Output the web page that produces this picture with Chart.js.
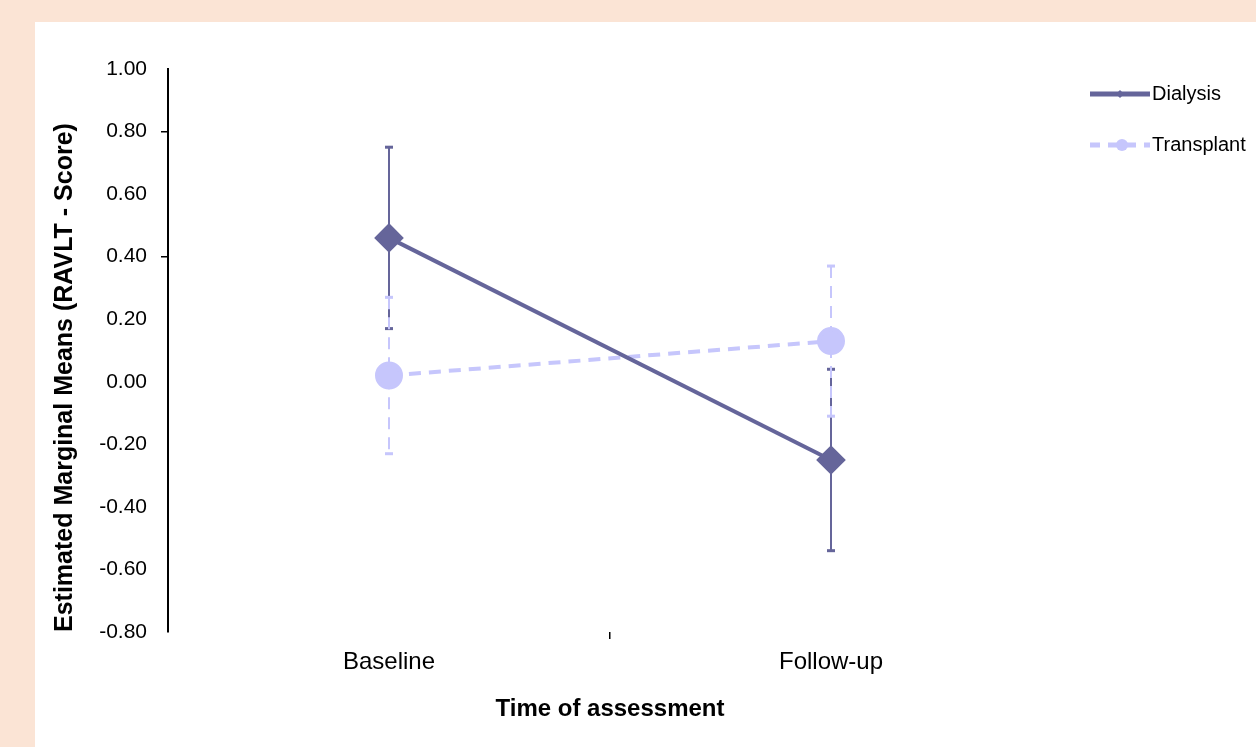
<!DOCTYPE html>
<html>
<head>
<meta charset="utf-8">
<script src="https://cdn.jsdelivr.net/npm/chart.js@4/dist/chart.umd.min.js"></script>
<style>
  html, body { margin: 0; padding: 0; background: #fbe4d5; }
  #panel { position: absolute; left: 35px; top: 22px; width: 1221px; height: 725px; background: #fff; }
</style>
</head>
<body>
<div id="panel"><canvas id="chart" width="1221" height="725"></canvas></div>
<script>
// data
const categories = ['Baseline', 'Follow-up'];
const dialysisMeans = [0.46, -0.25];
const dialysisErr = [0.29, 0.29];
const transplantMeans = [0.02, 0.13];
const transplantErr = [0.25, 0.24];
const yTickMarks = [0.8, 0.4];   // only these two carry a tick mark

const DARK = '#65659a';
const LIGHT = '#c6c6fc';
const FONT = 'Liberation Sans, Arial, sans-serif';

// error bars, drawn under the lines and markers
const errorBars = {
  id: 'errorBars',
  beforeDatasetsDraw(chart) {
    const ctx = chart.ctx;
    const x = chart.scales.x, y = chart.scales.y;
    chart.data.datasets.forEach(ds => {
      ctx.save();
      ctx.strokeStyle = ds.borderColor;
      ctx.fillStyle = ds.borderColor;
      ctx.lineWidth = 2;
      ctx.setLineDash(ds.borderDash || []);
      ds.data.forEach((v, i) => {
        const px = x.getPixelForValue(i);
        const top = y.getPixelForValue(v + ds.errors[i]);
        const bot = y.getPixelForValue(v - ds.errors[i]);
        ctx.beginPath();
        ctx.moveTo(px, top);
        ctx.lineTo(px, bot);
        ctx.stroke();
        ctx.fillRect(px - 4, top - 1.5, 8, 3);
        ctx.fillRect(px - 4, bot - 1.5, 8, 3);
      });
      ctx.restore();
    });
  }
};

// legend in the top right corner
const sideLegend = {
  id: 'sideLegend',
  afterDraw(chart) {
    const ctx = chart.ctx;
    const x0 = 1055, x1 = 1115;
    chart.data.datasets.forEach((ds, i) => {
      const yy = 72 + i * 51;
      ctx.save();
      ctx.strokeStyle = ds.borderColor;
      ctx.fillStyle = ds.borderColor;
      ctx.lineWidth = 5;
      ctx.setLineDash(ds.borderDash ? [10, 8] : []);
      ctx.beginPath();
      ctx.moveTo(x0, yy);
      ctx.lineTo(x1, yy);
      ctx.stroke();
      ctx.setLineDash([]);
      ctx.beginPath();
      if (ds.pointStyle === 'circle') {
        ctx.arc(1087, yy, 6, 0, Math.PI * 2);
      } else {
        ctx.moveTo(1085, yy - 4); ctx.lineTo(1089, yy); ctx.lineTo(1085, yy + 4); ctx.lineTo(1081, yy);
      }
      ctx.fill();
      ctx.fillStyle = '#000';
      ctx.font = '20px ' + FONT;
      ctx.textBaseline = 'middle';
      ctx.fillText(ds.label, x1 + 2, yy);
      ctx.restore();
    });
  }
};

new Chart(document.getElementById('chart'), {
  type: 'line',
  data: {
    labels: categories,
    datasets: [
      {
        label: 'Dialysis',
        data: dialysisMeans,
        errors: dialysisErr,
        borderColor: DARK,
        backgroundColor: DARK,
        borderWidth: 4,
        pointStyle: 'rectRot',
        pointRadius: 12,
        pointHoverRadius: 12
      },
      {
        label: 'Transplant',
        data: transplantMeans,
        errors: transplantErr,
        borderColor: LIGHT,
        backgroundColor: LIGHT,
        borderWidth: 4,
        borderDash: [12, 8],
        pointStyle: 'circle',
        pointRadius: 12,
        pointHoverRadius: 12
      }
    ]
  },
  options: {
    responsive: false,
    animation: false,
    layout: { padding: { top: 47, right: 204, left: 0, bottom: 0 } },
    plugins: { legend: { display: false }, tooltip: { enabled: false } },
    scales: {
      x: {
        offset: true,
        afterFit: s => { s.height = 115; },
        border: { display: false },
        grid: {
          offset: true,
          drawOnChartArea: false,
          tickLength: 7,
          lineWidth: 1.5,
          color: c => c.index === 1 ? '#000' : 'rgba(0,0,0,0)'
        },
        ticks: { color: '#000', padding: 9, font: { family: FONT, size: 24 } },
        title: {
          display: true,
          text: 'Time of assessment',
          color: '#000',
          padding: { bottom: 23 },
          font: { family: FONT, size: 24, weight: 'bold' }
        }
      },
      y: {
        min: -0.8,
        max: 1.0,
        afterFit: s => { s.width = 133; },
        border: { display: true, color: '#000', width: 2 },
        grid: {
          drawOnChartArea: false,
          tickLength: 7,
          lineWidth: 1.5,
          color: c => yTickMarks.some(v => Math.abs(c.tick.value - v) < 1e-6) ? '#000' : 'rgba(0,0,0,0)'
        },
        ticks: {
          stepSize: 0.2,
          color: '#000',
          padding: 14,
          font: { family: FONT, size: 21 },
          callback: v => v.toFixed(2)
        },
        title: {
          display: true,
          text: 'Estimated Marginal Means (RAVLT - Score)',
          align: 'start',
          color: '#000',
          padding: { top: 15 },
          font: { family: FONT, size: 25, weight: 'bold' }
        }
      }
    }
  },
  plugins: [errorBars, sideLegend]
});
</script>
</body>
</html>
